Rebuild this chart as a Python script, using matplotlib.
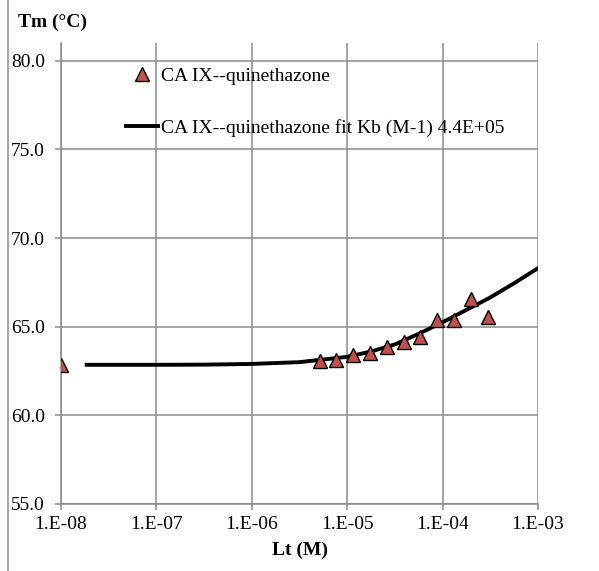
import matplotlib
matplotlib.use("Agg")
import matplotlib.pyplot as plt
from matplotlib.lines import Line2D
from matplotlib.ticker import FixedLocator, FixedFormatter

# measured points (Lt in M, Tm in C)
lt_data = [1.0e-8, 5.2e-6, 7.7e-6, 1.16e-5, 1.74e-5, 2.6e-5, 3.9e-5,
           5.86e-5, 8.8e-5, 1.32e-4, 1.98e-4, 2.97e-4]
tm_data = [62.84, 63.07, 63.11, 63.42, 63.50, 63.86, 64.12,
           64.44, 65.38, 65.38, 66.58, 65.57]

# fit curve
lt_fit = [1.86e-8, 1.0e-7, 3.16e-7, 1.0e-6, 3.16e-6, 1.0e-5, 1.78e-5,
          3.16e-5, 5.62e-5, 1.0e-4, 1.78e-4, 3.16e-4, 5.62e-4, 1.0e-3]
tm_fit = [62.85, 62.85, 62.86, 62.9, 63.0, 63.3, 63.6,
          64.0, 64.6, 65.25, 65.95, 66.65, 67.45, 68.3]

xticks = [1e-8, 1e-7, 1e-6, 1e-5, 1e-4, 1e-3]
xtick_labels = ['1.E-08', '1.E-07', '1.E-06', '1.E-05', '1.E-04', '1.E-03']
yticks = [55, 60, 65, 70, 75, 80]
ytick_labels = ['55.0', '60.0', '65.0', '70.0', '75.0', '80.0']

plt.rcParams['font.family'] = ['Liberation Serif', 'DejaVu Serif']
grid_c = '#8a8a8a'
fs = 14

fig = plt.figure(figsize=(5.99, 5.71), dpi=100)
ax = fig.add_axes([61 / 599, 1 - 504 / 571, 477 / 599, 461 / 571])

ax.set_xscale('log')
ax.set_xlim(1e-8, 1e-3)
ax.set_ylim(55, 81)
ax.xaxis.set_major_locator(FixedLocator(xticks))
ax.xaxis.set_major_formatter(FixedFormatter(xtick_labels))
ax.xaxis.set_minor_locator(FixedLocator([]))
ax.yaxis.set_major_locator(FixedLocator(yticks))
ax.yaxis.set_major_formatter(FixedFormatter(ytick_labels))

ax.grid(True, color=grid_c, lw=1.1)
ax.set_axisbelow(True)
for s in ['top', 'right']:
    ax.spines[s].set_visible(False)
for s in ['left', 'bottom']:
    ax.spines[s].set_color(grid_c)
    ax.spines[s].set_linewidth(1.1)
ax.tick_params(axis='both', colors=grid_c, labelcolor='black', labelsize=fs,
               length=4.5, width=1.1, direction='out')
ax.tick_params(axis='x', pad=4)
ax.tick_params(axis='y', pad=7)

ax.plot(lt_fit, tm_fit, color='black', lw=2.8,
        label='CA IX--quinethazone fit Kb (M-1) 4.4E+05', zorder=3)
ax.plot(lt_data, tm_data, linestyle='none', marker='^', ms=10,
        mfc='#C0504D', mec='black', mew=1.0, label='CA IX--quinethazone', zorder=4)

h, l = ax.get_legend_handles_labels()
ax.legend([h[1], h[0]], [l[1], l[0]], loc='upper left',
          bbox_to_anchor=(0.136, 0.948), frameon=False, fontsize=fs,
          handlelength=1.65, handletextpad=0.15, labelspacing=1.75,
          borderpad=0, borderaxespad=0)

fig.text(18 / 599, 1 - 22 / 571, 'Tm (°C)', fontsize=fs, fontweight='bold',
         ha='left', va='center')
fig.text(300 / 599, 1 - 550 / 571, 'Lt (M)', fontsize=fs, fontweight='bold',
         ha='center', va='center')
fig.add_artist(Line2D([8 / 599, 8 / 599], [0, 1], color=grid_c, lw=1.1))

fig.savefig('out.png', dpi=100)
